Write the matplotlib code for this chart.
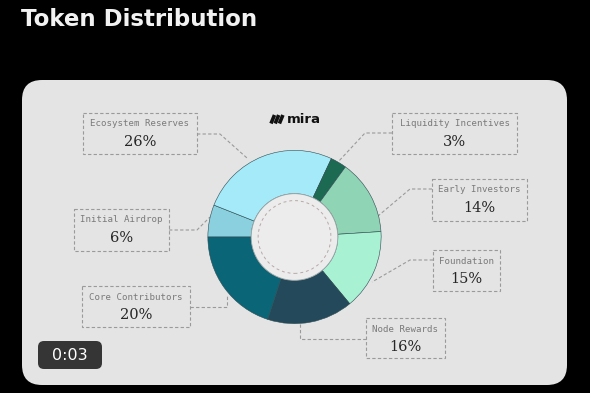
import matplotlib.pyplot as plt
from matplotlib.patches import FancyBboxPatch, Rectangle, Circle

# data, in pie order (clockwise from the left)
categories = ['Initial Airdrop', 'Ecosystem Reserves', 'Liquidity Incentives',
              'Early Investors', 'Foundation', 'Node Rewards', 'Core Contributors']
shares = [6, 26, 3, 14, 15, 16, 20]

# styling / layout (pixel coords of the 590x393 image)
slice_colors = ['#8ad0de', '#a4eaf8', '#1d6a52', '#8fd4b4', '#a8f1d3', '#24495b', '#0a6577']
label_boxes = [(74, 209, 169, 251), (83, 113, 197, 154), (392, 113, 517, 154),
               (432, 179, 527, 221), (433, 250, 500, 291), (366, 318, 445, 358),
               (82, 286, 190, 327)]
connectors = [[(169, 230), (197, 230), (210, 217)],
              [(197, 134), (220, 134), (247, 158)],
              [(392, 133), (365, 133), (338, 162)],
              [(432, 189), (410, 189), (378, 216)],
              [(433, 260), (410, 260), (372, 282)],
              [(366, 339), (300, 339), (300, 324)],
              [(190, 307), (227, 307), (227, 296)]]
donut_cx, donut_cy, donut_r = 294.5, 237, 87.5

fig = plt.figure(figsize=(5.9, 3.93), dpi=100, facecolor='black')
ax = fig.add_axes([0, 0, 1, 1])
ax.set_xlim(0, 590)
ax.set_ylim(393, 0)
ax.axis('off')

ax.text(21, 20, 'Token Distribution', color='#f2f2f2', fontsize=16.5,
        fontweight='bold', family='DejaVu Sans', va='center', ha='left')

card = FancyBboxPatch((22, 80), 545, 305, boxstyle='round,pad=0,rounding_size=20',
                      facecolor='#e4e4e4', edgecolor='none')
ax.add_patch(card)

dash = dict(color='#9a9a9a', lw=0.8, dashes=(3, 2))
for pts in connectors:
    xs = [p[0] for p in pts]
    ys = [p[1] for p in pts]
    ax.plot(xs, ys, **dash)

for name, val, (x0, y0, x1, y1) in zip(categories, shares, label_boxes):
    ax.add_patch(Rectangle((x0, y0), x1 - x0, y1 - y0, fill=False,
                           edgecolor='#9a9a9a', lw=0.8, ls=(0, (3, 2))))
    xc = (x0 + x1) / 2
    ax.text(xc, y0 + 11, name, family='DejaVu Sans Mono', fontsize=6.6,
            color='#7a7a7a', ha='center', va='center')
    ax.text(xc, y0 + 29, f'{val}%', family='DejaVu Serif', fontsize=10.5,
            color='#262626', ha='center', va='center')

# mira logo
for i in range(3):
    x = 271 + i * 4.2
    ax.plot([x, x + 3.5], [123.5, 115], color='#111111', lw=2.6, solid_capstyle='butt')
ax.text(287, 119.5, 'mira', family='DejaVu Sans', fontweight='bold', fontsize=9.5,
        color='#111111', ha='left', va='center')

# timer pill
pill = FancyBboxPatch((38, 341), 64, 28, boxstyle='round,pad=0,rounding_size=6',
                      facecolor='#353535', edgecolor='none')
ax.add_patch(pill)
ax.text(70, 355.5, '0:03', color='white', fontsize=11.5, family='DejaVu Sans',
        ha='center', va='center')

# donut in its own axes
W, H = 590, 393
ax_pie = fig.add_axes([(donut_cx - donut_r) / W, (H - donut_cy - donut_r) / H,
                       2 * donut_r / W, 2 * donut_r / H])
ax_pie.pie(shares, colors=slice_colors, startangle=180, counterclock=False,
           radius=1, wedgeprops=dict(width=0.5, edgecolor='#2d4a52', linewidth=0.4))
ax_pie.add_patch(Circle((0, 0), 0.5, facecolor='#ececec', edgecolor='#9aa6a8', lw=0.6))
ax_pie.add_patch(Circle((0, 0), 0.42, fill=False, edgecolor='#b8a8a8', lw=0.7,
                        ls=(0, (3, 3))))
ax_pie.set_xlim(-1.01, 1.01)
ax_pie.set_ylim(-1.01, 1.01)
ax_pie.axis('off')

fig.savefig('out.png', dpi=100, facecolor='black')
